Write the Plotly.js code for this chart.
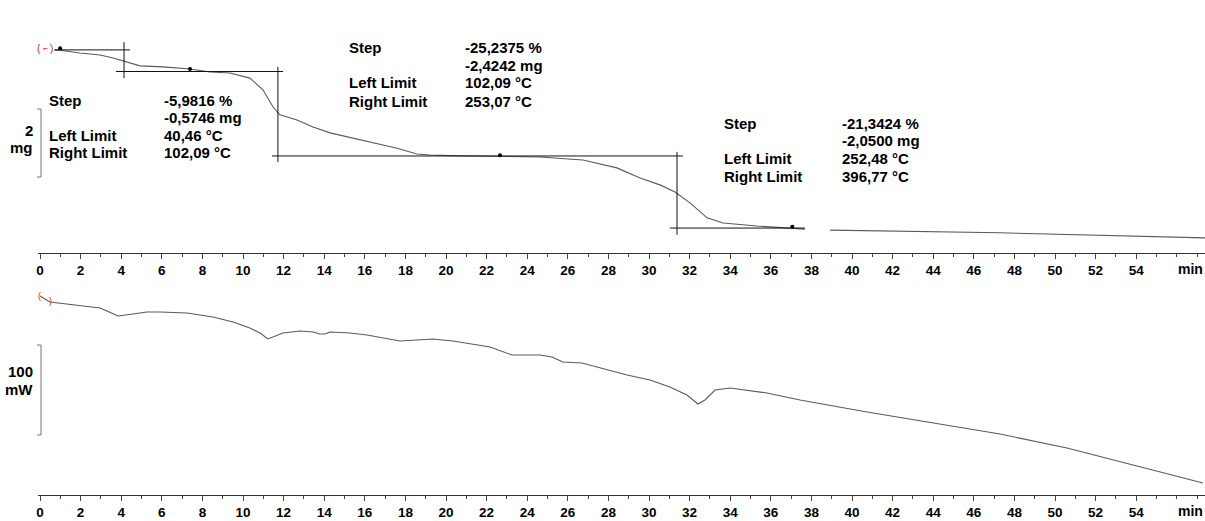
<!DOCTYPE html>
<html>
<head>
<meta charset="utf-8">
<script src="https://cdn.plot.ly/plotly-3.0.1.min.js"></script>
<style>html,body{margin:0;padding:0;background:#fff;}#chart{width:1205px;height:521px;}</style>
</head>
<body>
<div id="chart"></div>
<script>
// ---- TGA (mass, mg) vs time (min) ----
const tgaTime = [0.69,0.99,1.97,2.96,3.60,4.29,4.93,6.06,7.39,8.37,9.36,10.34,10.99,11.48,11.82,12.66,13.45,14.29,15.91,17.59,18.57,19.21,20.20,22.66,24.63,26.75,28.42,29.56,30.54,31.28,32.02,32.86,33.65,35.32,36.95,37.68,null,38.92,47.29,57.39];
const tgaMass = [9.55,9.54,9.46,9.40,9.31,9.19,9.08,9.05,8.99,8.90,8.87,8.72,8.37,7.87,7.64,7.49,7.28,7.11,6.90,6.66,6.49,6.46,6.44,6.43,6.40,6.31,6.08,5.78,5.58,5.37,5.05,4.61,4.46,4.37,4.32,4.28,null,4.25,4.17,4.02];

// step evaluation construction lines (segments separated by null)
const stepLineTime = [0.74,4.43,null, 4.14,4.14,null, 3.74,11.97,null, 11.72,11.72,null, 11.43,31.67,null, 31.38,31.38,null, 31.03,37.68];
const stepLineMass = [9.55,9.55,null, 9.78,8.72,null, 8.915,8.915,null, 9.05,6.25,null, 6.43,6.43,null, 6.55,4.11,null, 4.31,4.31];

// marker points on TGA curve
const markTime = [0.99,7.39,22.66,37.06];
const markMass = [9.60,8.99,6.45,4.35];

// ---- DSC (heat flow, mW) vs time (min) ----
const dscTime = [0.0,0.49,1.72,2.96,3.30,3.84,4.58,5.27,5.91,7.24,8.52,9.51,10.34,10.84,11.23,11.58,11.97,12.81,13.45,13.79,14.04,14.29,15.27,16.11,17.73,19.36,20.34,22.17,23.25,24.63,25.22,25.76,26.70,28.92,30.05,31.03,31.87,32.41,32.76,33.25,33.99,35.81,37.44,40.74,43.99,47.29,50.59,53.84,57.29];
const dscFlow = [4.4,-2.2,-5.6,-8.9,-12.2,-17.8,-15.6,-13.3,-13.3,-14.4,-18.9,-24.4,-31.1,-36.7,-43.3,-40.0,-36.7,-34.4,-35.6,-37.8,-37.8,-35.6,-36.7,-38.9,-45.6,-43.3,-45.6,-52.2,-61.1,-61.1,-63.3,-68.9,-70.0,-83.3,-88.9,-96.7,-105.6,-115.6,-111.1,-100.0,-97.8,-103.3,-111.1,-124.4,-136.7,-148.9,-164.4,-183.3,-203.3];

// tick labels
const tickVals = [0,2,4,6,8,10,12,14,16,18,20,22,24,26,28,30,32,34,36,38,40,42,44,46,48,50,52,54];
const tickText = tickVals.map(String);

// step result texts
const stepLabels = ["Step","","Left Limit","Right Limit"];
const step1Values = ["-5,9816 %","-0,5746 mg","40,46 °C","102,09 °C"];
const step2Values = ["-25,2375 %","-2,4242 mg","102,09 °C","253,07 °C"];
const step3Values = ["-21,3424 %","-2,0500 mg","252,48 °C","396,77 °C"];

// ---- geometry (pixels) ----
const W = 1205, H = 521, ML = 38, MR = 0;
const PXMIN = 20.3, X0PX = 40;          // px per minute, px of t=0
const xRange = [(ML - X0PX) / PXMIN, (W - MR - X0PX) / PXMIN];
const px2x = px => (px - ML) / (W - ML - MR);
const py2y = py => 1 - py / H;
// top: mg scale 34 px/mg, 9.606 mg at py 48 ; bottom: 0.9 px/mW, 0 at py 300
const mAt = py => 9.606 - (py - 48) / 34;
const hAt = py => -(py - 300) / 0.9;
const TOPAX = 253, BOTAX = 495;
const topDom = [py2y(TOPAX), py2y(20)];
const botDom = [py2y(BOTAX), py2y(275)];

const FONT = "Liberation Sans, Arial, sans-serif";
const curveColor = "#5a5a5a";
const TXT = 15;

const traces = [
  {x: tgaTime, y: tgaMass, xaxis:'x', yaxis:'y', mode:'lines', line:{color:curveColor, width:1.1}, connectgaps:false, hoverinfo:'skip'},
  {x: stepLineTime, y: stepLineMass, xaxis:'x', yaxis:'y', mode:'lines', line:{color:'#111', width:1}, connectgaps:false, hoverinfo:'skip'},
  {x: markTime, y: markMass, xaxis:'x', yaxis:'y', mode:'markers', marker:{symbol:'circle', size:4, color:'#000'}, hoverinfo:'skip'},
  {x: dscTime, y: dscFlow, xaxis:'x2', yaxis:'y2', mode:'lines', line:{color:curveColor, width:1.1}, hoverinfo:'skip'}
];

const annotations = [];
function addGroup(lx, vx, ys, values){
  ys.forEach((py, i) => {
    if (stepLabels[i]) annotations.push({xref:'paper', yref:'paper', x:px2x(lx), y:py2y(py), xanchor:'left', yanchor:'middle', text:stepLabels[i], showarrow:false, font:{family:FONT, size:TXT, weight:'bold', color:'#000'}, borderpad:0});
    annotations.push({xref:'paper', yref:'paper', x:px2x(vx), y:py2y(py), xanchor:'left', yanchor:'middle', text:values[i], showarrow:false, font:{family:FONT, size:TXT, weight:'bold', color:'#000'}, borderpad:0});
  });
}
addGroup(48, 163, [100,117,135,152], step1Values);
addGroup(348, 464, [47,65,83,101], step2Values);
addGroup(723, 841, [123,141,158,176], step3Values);

// scale bar labels
const sb = (txt, px, py) => ({xref:'paper', yref:'paper', x:px2x(px), y:py2y(py), xanchor:'right', yanchor:'middle', text:txt, showarrow:false, font:{family:FONT, size:15, weight:'bold', color:'#000'}, borderpad:0});
annotations.push(sb("2", 34, 130), sb("mg", 34, 147), sb("100", 34, 372), sb("mW", 34, 389));
// axis unit labels
annotations.push({xref:'paper', yref:'paper', x:px2x(1190), y:py2y(TOPAX + 16), xanchor:'center', yanchor:'middle', text:'min', showarrow:false, font:{family:FONT, size:14, weight:'bold', color:'#000'}, borderpad:0});
annotations.push({xref:'paper', yref:'paper', x:px2x(1190), y:py2y(BOTAX + 16), xanchor:'center', yanchor:'middle', text:'min', showarrow:false, font:{family:FONT, size:14, weight:'bold', color:'#000'}, borderpad:0});
// red bracket marks at curve starts
const red = (txt, px, py, sz) => ({xref:'paper', yref:'paper', x:px2x(px), y:py2y(py), xanchor:'center', yanchor:'middle', text:txt, showarrow:false, font:{family:FONT, size:sz, color:'#e02020'}, borderpad:0});
annotations.push(red('(', 39, 49, 10), red('⌐', 45, 48, 8), red(')', 51, 49, 10));
annotations.push(red('(', 39, 296, 9), red(')', 50, 301, 9));

const bar = (px, py0, py1) => ([
  {type:'line', xref:'paper', yref:'paper', x0:px2x(px), x1:px2x(px), y0:py2y(py0), y1:py2y(py1), line:{color:'#777', width:1}},
  {type:'line', xref:'paper', yref:'paper', x0:px2x(px-4), x1:px2x(px), y0:py2y(py0), y1:py2y(py0), line:{color:'#777', width:1}},
  {type:'line', xref:'paper', yref:'paper', x0:px2x(px-4), x1:px2x(px), y0:py2y(py1), y1:py2y(py1), line:{color:'#777', width:1}}
]);
const shapes = [].concat(bar(41, 109, 177), bar(41, 345, 435));

const xaxisBase = {
  range: xRange, showgrid:false, zeroline:false, showline:true, linecolor:'#333', linewidth:1,
  ticks:'outside', ticklen:5, tickwidth:1, tickcolor:'#444',
  tickmode:'array', tickvals: tickVals, ticktext: tickText,
  tickfont:{family:FONT, size:13.5, weight:'bold', color:'#000'},
  minor:{dtick:1, tick0:0, ticklen:3, tickcolor:'#444', ticks:'outside', showgrid:false},
  fixedrange:true
};

const layout = {
  width:W, height:H, margin:{l:ML, r:MR, t:0, b:0, pad:0},
  paper_bgcolor:'#fff', plot_bgcolor:'rgba(0,0,0,0)', showlegend:false,
  xaxis: Object.assign({}, xaxisBase, {anchor:'y'}),
  yaxis: {domain: topDom, range:[mAt(TOPAX), mAt(20)], visible:false, fixedrange:true},
  xaxis2: Object.assign({}, xaxisBase, {anchor:'y2'}),
  yaxis2: {domain: botDom, range:[hAt(BOTAX), hAt(275)], visible:false, fixedrange:true},
  annotations: annotations, shapes: shapes
};

Plotly.newPlot('chart', traces, layout, {displayModeBar:false, staticPlot:true});
</script>
</body>
</html>
